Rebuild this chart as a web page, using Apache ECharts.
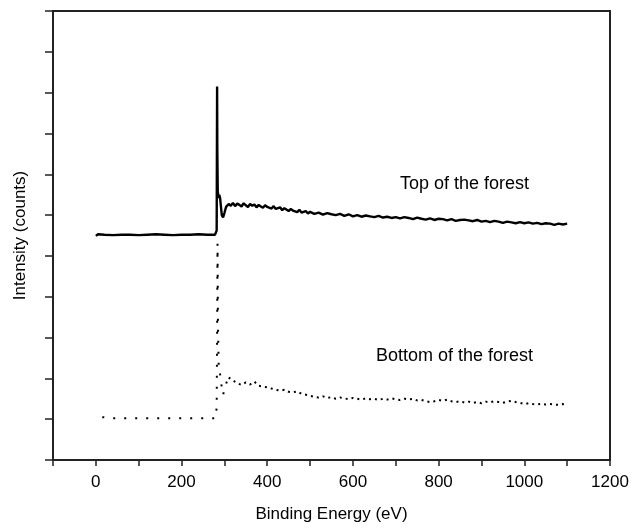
<!DOCTYPE html>
<html>
<head>
<meta charset="utf-8">
<script src="https://cdn.jsdelivr.net/npm/echarts@6/dist/echarts.min.js"></script>
<style>
  html, body { margin: 0; padding: 0; background: #fff; }
  #chart { width: 634px; height: 528px; }
</style>
</head>
<body>
<div id="chart"></div>
<script>
// x ticks (eV), labels every 200
var xTicks = [0, 200, 400, 600, 800, 1000, 1200];

// top of the forest - solid trace
var topEnergy = [0, 5, 20, 40, 60, 80, 100, 120, 140, 160, 180, 200, 220, 240, 260, 278,
  280, 282, 282.5, 283, 283.5, 284.5, 286, 288, 290, 292, 294, 297, 300, 304, 310,
  315, 320, 325, 330, 335, 340, 345, 350, 355, 360, 365, 370, 375, 380, 385, 390, 395, 400,
  410, 415, 420, 430, 435, 440, 450, 455, 460, 470, 475, 480, 490, 495, 500,
  510, 520, 530, 540, 550, 560, 570, 580, 590, 600, 610, 620, 630, 640, 650, 660, 670,
  680, 690, 700, 710, 720, 730, 740, 750, 760, 770, 780, 790, 800, 810, 820, 830, 840, 850,
  860, 870, 880, 890, 900, 910, 920, 930, 940, 950, 960, 970, 980, 990, 1000, 1010, 1020,
  1030, 1040, 1050, 1060, 1070, 1080, 1090, 1100];
var topCounts = [5.49, 5.53, 5.52, 5.51, 5.52, 5.52, 5.51, 5.52, 5.53, 5.52, 5.51, 5.52, 5.52, 5.53, 5.52, 5.52,
  5.53, 5.62, 7.4, 9.15, 7.6, 6.6, 6.42, 6.5, 6.42, 6.2, 6.0, 5.94, 6.05, 6.2, 6.27,
  6.23, 6.3, 6.22, 6.28, 6.25, 6.21, 6.29, 6.24, 6.2, 6.27, 6.23, 6.26, 6.19, 6.25, 6.21, 6.18, 6.24, 6.2,
  6.16, 6.22, 6.15, 6.19, 6.12, 6.17, 6.1, 6.15, 6.11, 6.07, 6.13, 6.06, 6.1, 6.04, 6.08,
  6.03, 6.06, 6.01, 6.05, 6.02, 6.0, 6.03, 5.98, 6.02, 5.97, 6.0, 5.96, 5.99, 5.97, 5.95, 5.98, 5.94,
  5.96, 5.93, 5.95, 5.92, 5.95, 5.93, 5.9, 5.94, 5.91, 5.89, 5.92, 5.88, 5.91, 5.9, 5.87, 5.9, 5.86, 5.88,
  5.89, 5.87, 5.85, 5.88, 5.84, 5.86, 5.83, 5.86, 5.84, 5.81, 5.84, 5.82, 5.8, 5.83, 5.8, 5.82, 5.79,
  5.81, 5.78, 5.8, 5.79, 5.76, 5.79, 5.77, 5.79];

// bottom of the forest - dotted trace, flat part and edge
var bottomEnergy = [15, 40, 70, 100, 130, 160, 190, 220, 250, 275, 280, 282, 283, 284,
  285, 287, 290, 293, 297, 300, 305, 310];
var bottomCounts = [1.05, 1.02, 1.02, 1.02, 1.02, 1.02, 1.02, 1.02, 1.02, 1.02, 1.03, 1.3, 3.0, 5.3,
  3.3, 2.2, 2.1, 1.85, 1.6, 1.72, 1.9, 2.02];

// bottom of the forest - noisy tail
var tailEnergy = [310, 320, 330, 340, 350, 360, 370, 380, 390, 400, 410, 420, 430, 440, 450, 460,
  470, 480, 490, 500, 510, 520, 530, 540, 550, 560, 570, 580, 590, 600, 610, 620, 630, 640, 650,
  660, 670, 680, 690, 700, 710, 720, 730, 740, 750, 760, 770, 780, 790, 800, 810, 820, 830, 840,
  850, 860, 870, 880, 890, 900, 910, 920, 930, 940, 950, 960, 970, 980, 990, 1000, 1010, 1020,
  1030, 1040, 1050, 1060, 1070, 1080, 1090, 1100];
var tailCounts = [2.02, 1.95, 1.88, 1.84, 1.9, 1.85, 1.92, 1.82, 1.8, 1.78, 1.75, 1.72, 1.7, 1.72, 1.67, 1.66,
  1.68, 1.62, 1.6, 1.57, 1.55, 1.53, 1.56, 1.52, 1.54, 1.5, 1.53, 1.51, 1.49, 1.52, 1.5, 1.48, 1.51, 1.49, 1.5,
  1.47, 1.5, 1.48, 1.51, 1.49, 1.47, 1.5, 1.48, 1.5, 1.46, 1.47, 1.44, 1.42, 1.44, 1.47, 1.45, 1.48, 1.44, 1.42,
  1.44, 1.41, 1.43, 1.4, 1.42, 1.39, 1.43, 1.41, 1.44, 1.42, 1.4, 1.43, 1.45, 1.42, 1.4, 1.37, 1.39, 1.37,
  1.36, 1.38, 1.36, 1.37, 1.36, 1.35, 1.37, 1.36];

function zip(xs, ys) {
  return xs.map(function (x, i) { return [x, ys[i]]; });
}

var font = 'Liberation Sans, Arial, sans-serif';

var chart = echarts.init(document.getElementById('chart'));

var option = {
  animation: false,
  backgroundColor: '#fff',
  textStyle: { fontFamily: font, color: '#000' },
  grid: {
    left: 53, right: 24, top: 11, bottom: 65,
    show: true, borderColor: '#222', borderWidth: 2
  },
  xAxis: {
    type: 'value',
    min: -100, max: 1200, interval: 100,
    name: 'Binding Energy (eV)',
    nameLocation: 'middle',
    nameGap: 46,
    nameTextStyle: { fontSize: 17, color: '#000', fontFamily: font },
    axisLine: { onZero: false, lineStyle: { color: '#222', width: 2 } },
    axisTick: { inside: false, length: 6, lineStyle: { color: '#222', width: 1.5 } },
    axisLabel: {
      fontSize: 17, color: '#000', fontFamily: font, margin: 14,
      formatter: function (v) { return xTicks.indexOf(v) >= 0 ? String(v) : ''; }
    },
    splitLine: { show: false }
  },
  yAxis: {
    type: 'value',
    min: 0, max: 11, interval: 1,
    name: 'Intensity (counts)',
    nameLocation: 'middle',
    nameGap: 24,
    nameTextStyle: { fontSize: 17, color: '#000', fontFamily: font },
    axisLine: { show: true, onZero: false, lineStyle: { color: '#222', width: 2 } },
    axisTick: { show: true, inside: false, length: 8, lineStyle: { color: '#222', width: 1.5 } },
    axisLabel: { show: false },
    splitLine: { show: false }
  },
  series: [
    {
      name: 'Top of the forest',
      type: 'line',
      data: zip(topEnergy, topCounts),
      showSymbol: false,
      lineStyle: { color: '#000', width: 2.4 }
    },
    {
      name: 'Bottom of the forest',
      type: 'line',
      data: zip(bottomEnergy, bottomCounts),
      showSymbol: false,
      lineStyle: { color: '#000', width: 2, type: [2, 9], cap: 'butt' }
    },
    {
      name: 'Bottom of the forest tail',
      type: 'line',
      data: zip(tailEnergy, tailCounts),
      showSymbol: false,
      lineStyle: { color: '#000', width: 2, type: [2, 4], cap: 'butt' }
    }
  ],
  graphic: [
    {
      type: 'text', left: 400, top: 175,
      style: { text: 'Top of the forest', font: '18px ' + font, fill: '#000' }
    },
    {
      type: 'text', left: 376, top: 347,
      style: { text: 'Bottom of the forest', font: '18px ' + font, fill: '#000' }
    }
  ]
};

chart.setOption(option);
</script>
</body>
</html>
